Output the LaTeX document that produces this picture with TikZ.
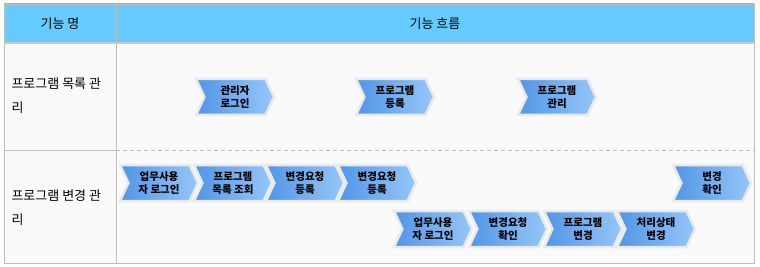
\documentclass[tikz,border=0pt]{standalone}
\usepackage{fontspec}
\setmainfont{Noto Sans CJK KR}
\usetikzlibrary{shapes.symbols}
\definecolor{headblue}{RGB}{102,204,255}
\definecolor{headtop}{RGB}{140,180,200}
\definecolor{gridgray}{RGB}{190,190,190}
\definecolor{bodybg}{RGB}{250,250,250}
\definecolor{stepdark}{RGB}{82,150,230}
\definecolor{steplight}{RGB}{150,198,248}
\definecolor{stephalo}{RGB}{234,234,234}
\tikzset{
  flowstep/.style={signal, signal to=east, signal from=west, signal pointer angle=130,
    minimum width=78, minimum height=36, inner sep=0pt, left color=stepdark, right color=steplight,
    draw=stephalo, line width=2.5pt, align=center, font=\fontsize{10.5}{12.5}\selectfont\bfseries},
  rowlabel/.style={anchor=west, align=left, font=\fontsize{13}{24}\selectfont},
  headlabel/.style={font=\fontsize{13}{15}\selectfont}
}
\begin{document}
\begin{tikzpicture}[x=1pt, y=-1pt]
            \useasboundingbox (0,0) rectangle (760,267);
            % table
            \fill[bodybg] (4,4) rectangle (754,263);
            \fill[headblue] (4,4) rectangle (754,43);
            \draw[headtop, line width=2pt] (4,4) -- (754,4);
            \draw[gridgray!80, line width=2pt] (4,43) -- (754,43);
            \draw[gridgray] (4,4) rectangle (754,263);
            \draw[gridgray] (116,4) -- (116,263);
            \draw[gridgray] (4,150) -- (116,150);
            \draw[gridgray, dashed, dash pattern=on 4pt off 3pt] (116,150) -- (754,150);
            \node[headlabel] (namehead) at (60,24) {기능 명};
            \node[headlabel] (flowhead) at (435,24) {기능 흐름};
            \node[rowlabel] (listrow) at (8,96) {프로그램 목록 관\\리};
            \node[rowlabel] (changerow) at (8,208) {프로그램 변경 관\\리};
            % program list
            \node[flowstep] (adminlogin) at (235,97) {관리자\\로그인};
            \node[flowstep] (progreg) at (395,97) {프로그램\\등록};
            \node[flowstep] (progmanage) at (557,97) {프로그램\\관리};
            % program change, request
            \node[flowstep] (userlogin) at (159,183) {업무사용\\자 로그인};
            \node[flowstep] (proglist) at (233,183) {프로그램\\목록 조회};
            \node[flowstep] (reqreg) at (305,183) {변경요청\\등록};
            \node[flowstep] (reqregb) at (377,183) {변경요청\\등록};
            \node[flowstep] (changecheck) at (712,183) {변경\\확인};
            % program change, handling
            \node[flowstep] (userloginb) at (433,229) {업무사용\\자 로그인};
            \node[flowstep] (reqcheck) at (508,229) {변경요청\\확인};
            \node[flowstep] (progchange) at (583,229) {프로그램\\변경};
            \node[flowstep] (statechange) at (656,229) {처리상태\\변경};
        \end{tikzpicture}
\end{document}
